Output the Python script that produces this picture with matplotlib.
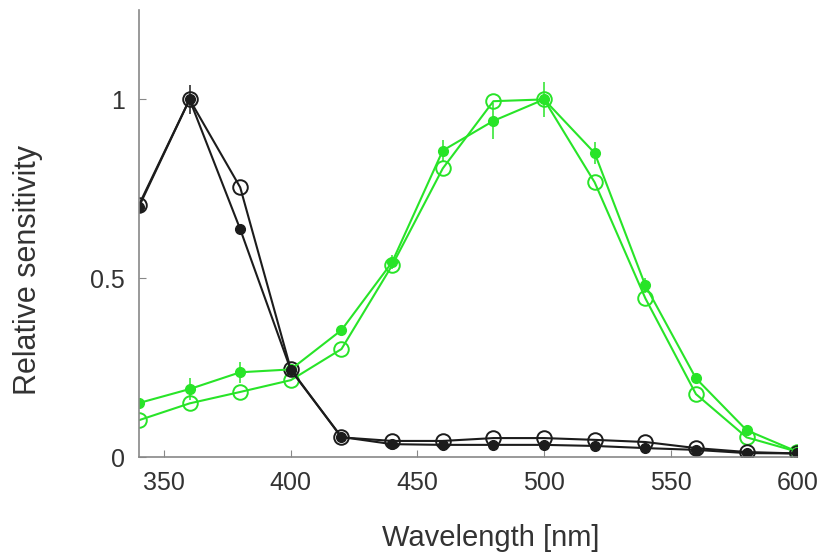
import numpy as np
import matplotlib.pyplot as plt

plt.rcParams['font.family'] = ['Liberation Sans', 'DejaVu Sans']

# wavelengths sampled every 20 nm
wavelength = np.arange(340, 601, 20)

# UV-like receptor (black)
uv_closed = [0.70, 1.00, 0.637, 0.243, 0.056, 0.036, 0.034, 0.034, 0.034, 0.031, 0.025, 0.020, 0.011, 0.010]
uv_open = [0.705, 1.00, 0.754, 0.245, 0.055, 0.045, 0.045, 0.053, 0.053, 0.048, 0.042, 0.025, 0.014, 0.010]
uv_closed_err = [0.01, 0.04, 0.01, 0.01, 0.01, 0.005, 0.005, 0.005, 0.005, 0.005, 0.005, 0.005, 0.005, 0.005]

# green receptor
gr_closed = [0.151, 0.19, 0.237, 0.245, 0.355, 0.545, 0.857, 0.94, 1.00, 0.85, 0.48, 0.22, 0.075, 0.015]
gr_open = [0.103, 0.15, 0.182, 0.215, 0.302, 0.536, 0.807, 0.995, 1.00, 0.768, 0.444, 0.176, 0.055, 0.015]
gr_closed_err = [0.01, 0.03, 0.03, 0.01, 0.01, 0.02, 0.03, 0.05, 0.05, 0.03, 0.02, 0.01, 0.01, 0.01]

black = '#1c1c1c'
green = '#28e428'

fig = plt.figure(figsize=(8.27, 5.56), dpi=100)
ax = fig.add_axes([0.168, 0.178, 0.796, 0.804])

ax.errorbar(wavelength, gr_closed, yerr=gr_closed_err, color=green, marker='o', ms=7,
            lw=1.5, elinewidth=1.1, capsize=0)
ax.plot(wavelength, gr_open, color=green, marker='o', ms=10.5, mfc='none', mew=1.4, lw=1.5)
ax.errorbar(wavelength, uv_closed, yerr=uv_closed_err, color=black, marker='o', ms=7,
            lw=1.5, elinewidth=1.1, capsize=0)
ax.plot(wavelength, uv_open, color=black, marker='o', ms=10.5, mfc='none', mew=1.4, lw=1.5)

ax.set_xlim(340, 600)
ax.set_ylim(0, 1.25)
ax.set_xticks([350, 400, 450, 500, 550, 600])
ax.set_yticks([0, 0.5, 1])
ax.set_yticklabels(['0', '0.5', '1'])

for s in ['top', 'right']:
    ax.spines[s].set_visible(False)
for s in ['left', 'bottom']:
    ax.spines[s].set_color('#888888')
    ax.spines[s].set_linewidth(1.2)

ax.tick_params(direction='in', length=5, color='#888888', labelsize=18,
               labelcolor='#333333', pad=10)
ax.set_xlabel('Wavelength [nm]', fontsize=21, color='#333333', labelpad=21)
ax.xaxis.label.set_x(0.535)
ax.set_ylabel('Relative sensitivity', fontsize=22, color='#333333')
ax.yaxis.set_label_coords(-0.145, 0.418)

fig.savefig('out.png', dpi=100)
